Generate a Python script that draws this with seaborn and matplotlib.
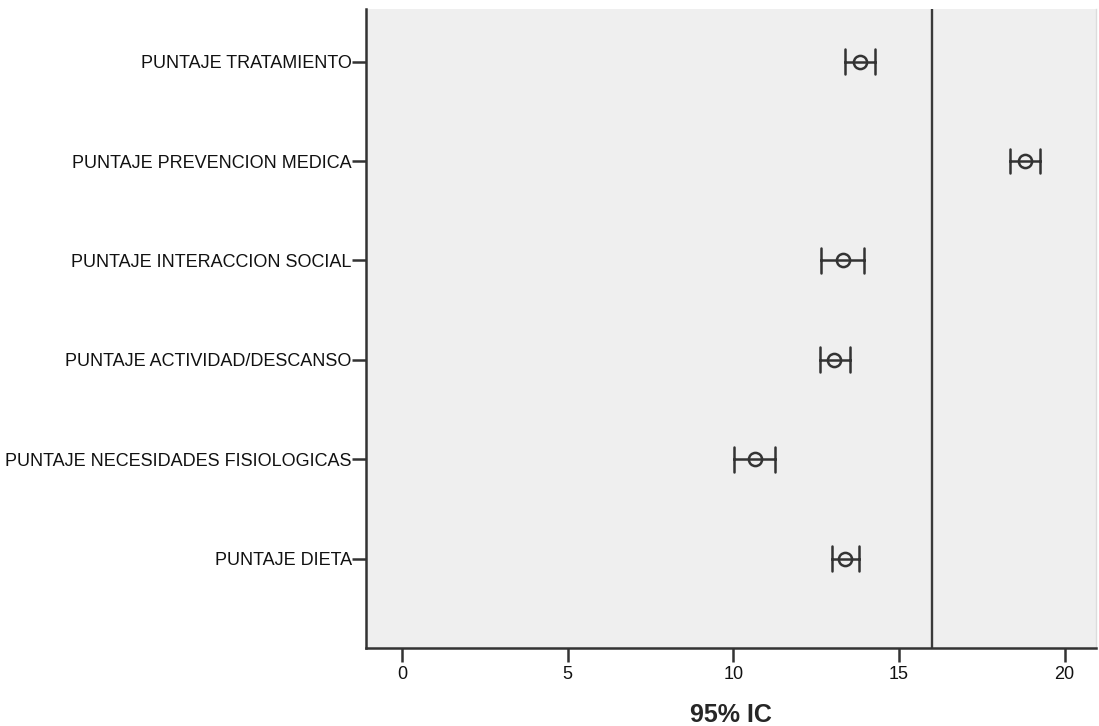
import pandas as pd
import matplotlib
matplotlib.use("Agg")
import matplotlib.pyplot as plt
import seaborn as sns

# ── Data (95% CI per score) ───────────────────────────────────────────────────
categorias = [
    "PUNTAJE TRATAMIENTO",
    "PUNTAJE PREVENCION MEDICA",
    "PUNTAJE INTERACCION SOCIAL",
    "PUNTAJE ACTIVIDAD/DESCANSO",
    "PUNTAJE NECESIDADES FISIOLOGICAS",
    "PUNTAJE DIETA",
]
media = [13.82, 18.80, 13.30, 13.05, 10.66, 13.38]
ic_inf = [13.38, 18.35, 12.66, 12.61, 10.02, 12.98]
ic_sup = [14.27, 19.25, 13.95, 13.51, 11.27, 13.79]
valor_ref = 16
x_ticks = [0, 5, 10, 15, 20]

# long table: lower / mean / upper per category -> median = mean, 100% interval = CI
df = pd.DataFrame({
    "categoria": categorias * 3,
    "valor": ic_inf + media + ic_sup,
})

sns.set_style("white")
plt.rcParams["font.family"] = ["Liberation Sans", "DejaVu Sans"]

fig = plt.figure(figsize=(10.99, 7.26), dpi=100)
ax = fig.add_axes([0.3328, 0.1074, 0.6645, 0.8802])
ax.set_facecolor("#efefef")

sns.pointplot(
    data=df, x="valor", y="categoria", order=categorias, orient="h",
    estimator="median", errorbar=("pi", 100), capsize=0.25,
    color="#333333", linestyle="none", marker="o", markersize=9.5,
    markerfacecolor="none", markeredgewidth=1.8,
    err_kws={"linewidth": 1.8}, ax=ax,
)

ax.axvline(valor_ref, color="#3a3a3a", lw=1.7, zorder=1)

ax.set_xlim(-1.1, 20.95)
ax.set_ylim(5.9, -0.53)
ax.set_xticks(x_ticks)
ax.set_xticklabels([str(t) for t in x_ticks])
ax.set_ylabel("")
ax.set_xlabel("95% IC", fontsize=18, fontweight="bold", labelpad=14)

for side in ["left", "bottom"]:
    ax.spines[side].set_color("#333333")
    ax.spines[side].set_linewidth(1.8)
ax.spines["top"].set_visible(False)
ax.spines["right"].set_color("#dcdcdc")
ax.spines["right"].set_linewidth(1.0)

ax.tick_params(axis="both", which="major", length=10, width=1.8,
               color="#333333", labelsize=13, labelcolor="#111111")
ax.tick_params(axis="x", pad=3)
ax.tick_params(axis="y", pad=0)
ax.tick_params(left=True, bottom=True)

fig.savefig("out.png", dpi=100)
